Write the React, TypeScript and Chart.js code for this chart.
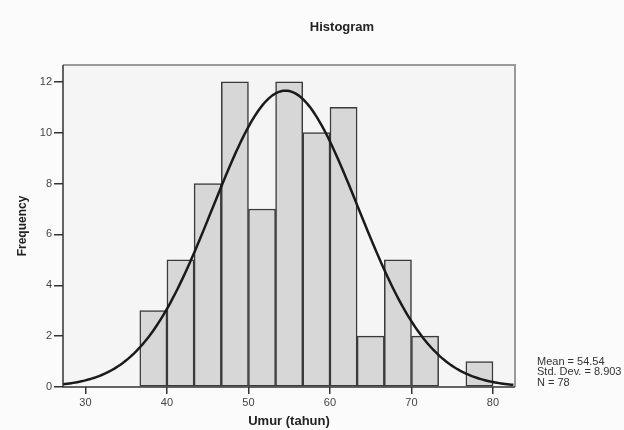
import React, { useEffect, useRef } from "react";
import { Chart, registerables } from "chart.js";

Chart.register(...registerables);

// Histogram bins (lower edges, years) and counts
const BIN_LOWER = [36.67, 40, 43.33, 46.67, 50, 53.33, 56.67, 60, 63.33, 66.67, 70, 73.33, 76.67];
const BIN_WIDTH = 10 / 3;
const COUNTS = [3, 5, 8, 12, 7, 12, 10, 11, 2, 5, 2, 0, 1];
const X_TICKS = [30, 40, 50, 60, 70, 80];
const Y_TICKS = [0, 2, 4, 6, 8, 10, 12];

// Summary statistics shown in the figure (define the fitted normal curve)
const MEAN = 54.54;
const STD_DEV = 8.903;
const N = 78;
const STATS_LINES = ["Mean = 54.54", "Std. Dev. = 8.903", "N = 78"];

const X_MIN = 27.25;
const X_MAX = 82.7;
const Y_MAX = 12.66;

const FONT = "'Liberation Sans', Arial, sans-serif";

function normalCurve() {
  const pts: { x: number; y: number }[] = [];
  const k = (N * BIN_WIDTH) / (STD_DEV * Math.sqrt(2 * Math.PI));
  for (let x = X_MIN; x <= X_MAX + 1e-9; x += 0.25) {
    const z = (x - MEAN) / STD_DEV;
    pts.push({ x, y: k * Math.exp(-0.5 * z * z) });
  }
  return pts;
}

const decorPlugin = {
  id: "decor",
  beforeDraw(chart: any) {
    const { ctx, chartArea: a } = chart;
    ctx.save();
    ctx.fillStyle = "#fbfbfb";
    ctx.fillRect(0, 0, chart.width, chart.height);
    ctx.fillStyle = "#f5f5f5";
    ctx.fillRect(a.left, a.top, a.right - a.left, a.bottom - a.top);
    ctx.restore();
  },
  afterDraw(chart: any) {
    const { ctx, chartArea: a } = chart;
    ctx.save();
    // top & right frame
    ctx.strokeStyle = "#9a9a9a";
    ctx.lineWidth = 2;
    ctx.beginPath();
    ctx.moveTo(a.left, a.top);
    ctx.lineTo(a.right, a.top);
    ctx.lineTo(a.right, a.bottom);
    ctx.stroke();
    // left & bottom axis lines
    ctx.strokeStyle = "#333";
    ctx.lineWidth = 1.5;
    ctx.beginPath();
    ctx.moveTo(a.left, a.top);
    ctx.lineTo(a.left, a.bottom);
    ctx.lineTo(a.right, a.bottom);
    ctx.stroke();
    // title
    ctx.fillStyle = "#222";
    ctx.font = `bold 13px ${FONT}`;
    ctx.textAlign = "center";
    ctx.textBaseline = "middle";
    ctx.fillText("Histogram", 342, 27);
    // stats
    ctx.font = `11px ${FONT}`;
    ctx.textAlign = "left";
    ctx.fillStyle = "#333";
    STATS_LINES.forEach((t, i) => ctx.fillText(t, 537, 361.5 + i * 10.8));
    ctx.restore();
  },
};

export default function App() {
  const ref = useRef<HTMLCanvasElement>(null);
  useEffect(() => {
    document.body.style.margin = "0";
    const canvas = ref.current!;
    const chart = new Chart(canvas, {
      type: "bar",
      data: {
        datasets: [
          {
            type: "line",
            data: normalCurve(),
            borderColor: "#1a1a1a",
            borderWidth: 2.5,
            pointRadius: 0,
            tension: 0,
            order: 0,
          } as any,
          {
            type: "bar",
            data: BIN_LOWER.map((l, i) => ({ x: l + BIN_WIDTH / 2, y: COUNTS[i] })),
            backgroundColor: "#d7d7d7",
            borderColor: "#3a3a3a",
            borderWidth: 1.5,
            borderSkipped: false,
            barPercentage: 1,
            categoryPercentage: 1,
            order: 1,
          } as any,
        ],
      },
      options: {
        responsive: false,
        animation: false,
        layout: { padding: { left: 0, right: 109, top: 65, bottom: 0 } },
        plugins: { legend: { display: false }, tooltip: { enabled: false }, title: { display: false } },
        scales: {
          x: {
            type: "linear",
            min: X_MIN,
            max: X_MAX,
            offset: false,
            afterFit: (s: any) => { s.height = 43; },
            afterBuildTicks: (s: any) => { s.ticks = X_TICKS.map((v) => ({ value: v })); },
            border: { display: false },
            grid: { display: true, offset: false, drawOnChartArea: false, drawTicks: true, tickLength: 7, color: "#333", lineWidth: 1.5 },
            ticks: { stepSize: 10, includeBounds: false, padding: 2, color: "#444", font: { family: FONT, size: 11 }, maxRotation: 0 },
            title: { display: true, text: "Umur (tahun)", color: "#222", font: { family: FONT, size: 13, weight: "bold" }, padding: { top: 1, bottom: 1 } },
          },
          y: {
            type: "linear",
            min: 0,
            max: Y_MAX,
            afterFit: (s: any) => { s.width = 63; },
            afterBuildTicks: (s: any) => { s.ticks = Y_TICKS.map((v) => ({ value: v })); },
            border: { display: false },
            grid: { display: true, offset: false, drawOnChartArea: false, drawTicks: true, tickLength: 9, color: "#333", lineWidth: 1.5 },
            ticks: { stepSize: 2, includeBounds: false, padding: 2, color: "#444", font: { family: FONT, size: 11 } },
            title: { display: true, text: "Frequency", color: "#222", font: { family: FONT, size: 12, weight: "bold" }, padding: { top: 15, bottom: 0 } },
          },
        },
      },
      plugins: [decorPlugin],
    } as any);
    return () => chart.destroy();
  }, []);
  return (
    <div style={{ width: 624, height: 430 }}>
      <canvas ref={ref} width={624} height={430} style={{ width: 624, height: 430, display: "block" }} />
    </div>
  );
}
